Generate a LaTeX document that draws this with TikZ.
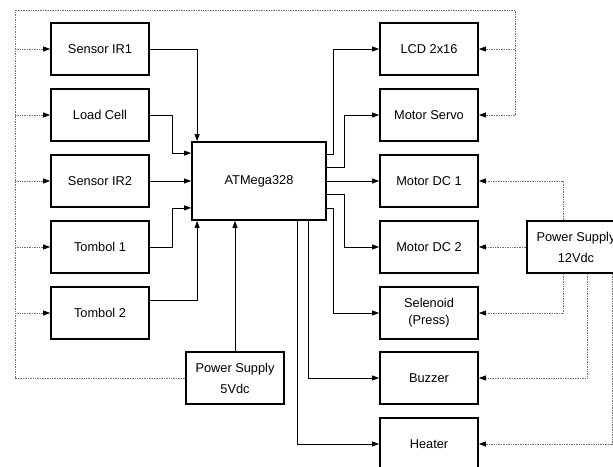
\documentclass[tikz,border=0pt]{standalone}
\usepackage{fontspec}
\setmainfont{Liberation Sans}
\usetikzlibrary{arrows.meta, positioning}

\begin{document}
\begin{tikzpicture}[x=1pt, y=-1pt,
    every node/.style={font=\fontsize{12.8}{15}\selectfont},
    blok/.style={draw, rectangle, line width=1.8pt, minimum width=98pt, minimum height=52pt, align=center, inner sep=2pt},
    mcubox/.style={blok, minimum width=134pt, minimum height=78pt},
    arrow/.style={-{Triangle[length=7pt, width=5pt]}, line width=0.7pt},
    dotline/.style={densely dotted, black!55, line width=0.7pt},
    dotarrow/.style={dotline, -{Triangle[length=7pt, width=5pt, black]}}
]
    \useasboundingbox (0,0) rectangle (613,466);

    % Input blocks
    \node (ir1) [blok] at (100, 49) {Sensor IR1};
    \node (load) [blok] at (100, 115) {Load Cell};
    \node (ir2) [blok] at (100, 181) {Sensor IR2};
    \node (tb1) [blok] at (100, 247) {Tombol 1};
    \node (tb2) [blok] at (100, 313) {Tombol 2};

    % Controller and supplies
    \node (atm) [mcubox] at (259, 181) {ATMega328};
    \node (ps5) [blok] at (235, 378) {Power Supply\\[6pt]5Vdc};
    \node (ps12) [blok] at (576, 247) {Power Supply\\[6pt]12Vdc};

    % Output blocks
    \node (lcd) [blok] at (429, 49) {LCD 2x16};
    \node (servo) [blok] at (429, 115) {Motor Servo};
    \node (dc1) [blok] at (429, 181) {Motor DC 1};
    \node (dc2) [blok] at (429, 247) {Motor DC 2};
    \node (sol) [blok] at (429, 313) {Selenoid\\[2pt](Press)};
    \node (buz) [blok] at (429, 378) {Buzzer};
    \node (heat) [blok] at (429, 444) {Heater};

    % Frame corners of the 5V supply line
    \coordinate (frameTL) at (15, 10);
    \coordinate (frameTR) at (515, 10);

    % Inputs to ATMega
    \draw [arrow] (ir1.east) -| ([xshift=6pt]atm.north west);
    \draw [arrow] (load.east) -- ++(22,0) |- ([yshift=-12pt]atm.north west);
    \draw [arrow] (ir2.east) -- (atm.west);
    \draw [arrow] (tb1.east) -- ++(22,0) |- ([yshift=13pt]atm.south west);
    \draw [arrow] ([yshift=13pt]tb2.east) -| ([xshift=6pt]atm.south west);
    \draw [arrow] (ps5.north) -- (ps5.north |- atm.south);

    % Outputs from ATMega
    \draw [arrow] ([yshift=-13pt]atm.north east) -- ++(6,0) |- (lcd.west);
    \draw [arrow] ([yshift=-26pt]atm.north east) -- ++(17,0) |- (servo.west);
    \draw [arrow] (atm.east) -- (dc1.west);
    \draw [arrow] ([yshift=-13pt]atm.east) -- ++(17,0) |- (dc2.west);
    \draw [arrow] ([yshift=13pt]atm.south east) -- ++(6,0) |- (sol.west);
    \draw [arrow] ([xshift=-19pt]atm.south east) |- (buz.west);
    \draw [arrow] ([xshift=-30pt]atm.south east) |- (heat.west);

    % 5V supply lines
    \draw [dotline] (ps5.west) -| (frameTL) -- (frameTR) -- (frameTR |- servo.east);
    \draw [dotarrow] (frameTL |- ir1.west) -- (ir1.west);
    \draw [dotarrow] (frameTL |- load.west) -- (load.west);
    \draw [dotarrow] (frameTL |- ir2.west) -- (ir2.west);
    \draw [dotarrow] (frameTL |- tb1.west) -- (tb1.west);
    \draw [dotarrow] (frameTL |- tb2.west) -- (tb2.west);
    \draw [dotarrow] (frameTR |- lcd.east) -- (lcd.east);
    \draw [dotarrow] (frameTR |- servo.east) -- (servo.east);

    % 12V supply lines
    \draw [dotarrow] ([xshift=-13pt]ps12.north) |- (dc1.east);
    \draw [dotarrow] (ps12.west) -- (dc2.east);
    \draw [dotarrow] ([xshift=-13pt]ps12.south) |- (sol.east);
    \draw [dotarrow] ([xshift=11pt]ps12.south) |- (buz.east);
    \draw [dotarrow] ([xshift=36pt]ps12.south) |- (heat.east);

\end{tikzpicture}
\end{document}
